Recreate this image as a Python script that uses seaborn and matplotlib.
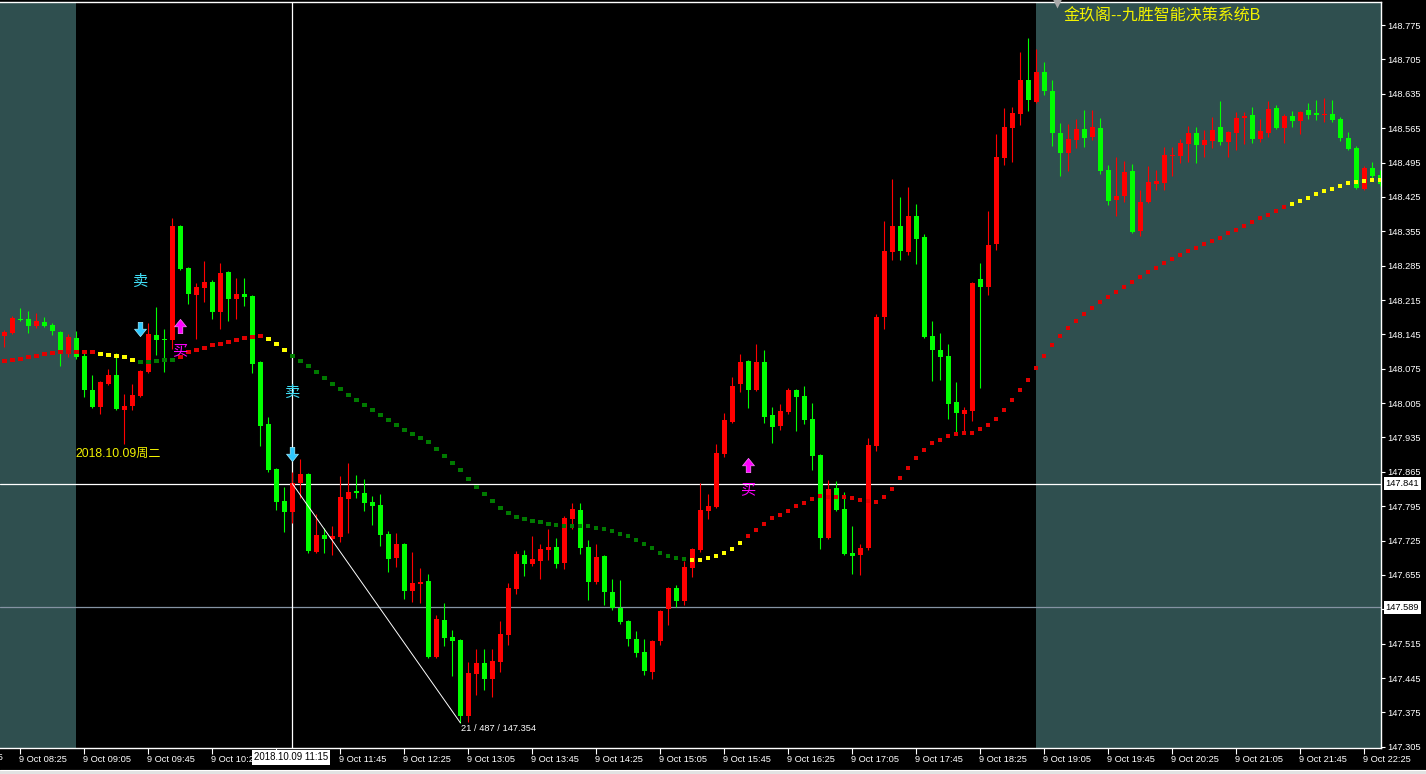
import numpy as np
import pandas as pd
import matplotlib
matplotlib.use("Agg")
import matplotlib.pyplot as plt
import matplotlib.transforms as mtransforms
from matplotlib.path import Path
from matplotlib.patches import Rectangle
import seaborn as sns

# ---------------- data ----------------
bar_times = pd.date_range("2018-10-09 08:15", periods=173, freq="5min")

open_ = [
148.142, 148.148, 148.176, 148.176, 148.162, 148.170, 148.164, 148.150, 148.107, 148.138,
148.101, 148.032, 147.997, 148.044, 148.062, 147.991, 147.999, 148.019, 148.068, 148.144,
148.136, 148.134, 148.366, 148.280, 148.225, 148.239, 148.252, 148.191, 148.272, 148.217,
148.227, 148.223, 148.089, 147.962, 147.871, 147.806, 147.783, 147.842, 147.861, 147.702,
147.736, 147.728, 147.732, 147.810, 147.826, 147.822, 147.804, 147.797, 147.738, 147.690,
147.718, 147.622, 147.637, 147.643, 147.488, 147.563, 147.529, 147.523, 147.368, 147.453,
147.476, 147.443, 147.478, 147.533, 147.626, 147.696, 147.677, 147.683, 147.706, 147.712,
147.679, 147.769, 147.787, 147.712, 147.641, 147.694, 147.620, 147.588, 147.561, 147.525,
147.498, 147.457, 147.520, 147.586, 147.628, 147.602, 147.669, 147.706, 147.785, 147.793,
147.901, 147.967, 148.044, 148.091, 148.032, 148.089, 147.981, 147.958, 147.987, 148.032,
148.019, 147.973, 147.899, 147.730, 147.832, 147.789, 147.700, 147.696, 147.710, 147.918,
148.180, 148.313, 148.366, 148.313, 148.386, 148.343, 148.142, 148.113, 148.101, 148.007,
147.983, 147.989, 148.258, 148.241, 148.329, 148.504, 148.565, 148.594, 148.663, 148.618,
148.679, 148.641, 148.555, 148.514, 148.541, 148.563, 148.547, 148.565, 148.480, 148.419,
148.427, 148.478, 148.356, 148.415, 148.451, 148.453, 148.508, 148.508, 148.533, 148.555,
148.531, 148.539, 148.567, 148.537, 148.555, 148.586, 148.592, 148.543, 148.555, 148.606,
148.565, 148.590, 148.580, 148.602, 148.596, 148.592, 148.594, 148.584, 148.545, 148.525,
148.441, 148.484, 148.470]

high = [
148.154, 148.182, 148.199, 148.193, 148.189, 148.180, 148.168, 148.151, 148.146, 148.152,
148.107, 148.062, 148.050, 148.074, 148.107, 148.024, 148.044, 148.072, 148.168, 148.201,
148.156, 148.382, 148.368, 148.282, 148.250, 148.294, 148.256, 148.290, 148.274, 148.260,
148.260, 148.225, 148.091, 147.977, 147.873, 147.834, 147.865, 147.891, 147.863, 147.779,
147.751, 147.755, 147.857, 147.883, 147.859, 147.850, 147.816, 147.820, 147.745, 147.740,
147.720, 147.702, 147.669, 147.657, 147.573, 147.598, 147.543, 147.525, 147.478, 147.504,
147.504, 147.504, 147.561, 147.639, 147.704, 147.706, 147.734, 147.718, 147.749, 147.730,
147.775, 147.802, 147.802, 147.726, 147.718, 147.696, 147.647, 147.645, 147.563, 147.541,
147.525, 147.523, 147.584, 147.630, 147.635, 147.683, 147.710, 147.842, 147.820, 147.922,
147.985, 148.058, 148.105, 148.093, 148.125, 148.113, 147.997, 148.003, 148.036, 148.034,
148.040, 148.005, 147.901, 147.848, 147.846, 147.824, 147.755, 147.718, 147.934, 148.186,
148.376, 148.461, 148.425, 148.445, 148.411, 148.349, 148.172, 148.148, 148.125, 148.048,
147.997, 148.252, 148.290, 148.396, 148.553, 148.606, 148.608, 148.720, 148.749, 148.726,
148.700, 148.663, 148.575, 148.573, 148.584, 148.602, 148.602, 148.586, 148.490, 148.506,
148.498, 148.492, 148.439, 148.488, 148.480, 148.527, 148.527, 148.543, 148.569, 148.567,
148.561, 148.588, 148.620, 148.559, 148.598, 148.598, 148.608, 148.584, 148.620, 148.612,
148.594, 148.600, 148.600, 148.616, 148.622, 148.626, 148.622, 148.588, 148.557, 148.529,
148.488, 148.496, 148.480]

low = [
148.119, 148.146, 148.172, 148.148, 148.158, 148.160, 148.144, 148.081, 148.099, 148.095,
148.017, 147.995, 147.983, 148.042, 147.991, 147.922, 147.991, 148.017, 148.066, 148.103,
148.068, 148.115, 148.276, 148.207, 148.136, 148.211, 148.176, 148.156, 148.172, 148.176,
148.203, 148.066, 147.918, 147.865, 147.787, 147.742, 147.761, 147.812, 147.700, 147.700,
147.700, 147.696, 147.722, 147.740, 147.812, 147.785, 147.757, 147.714, 147.661, 147.671,
147.606, 147.600, 147.598, 147.486, 147.486, 147.510, 147.449, 147.354, 147.356, 147.410,
147.421, 147.406, 147.457, 147.512, 147.616, 147.653, 147.673, 147.647, 147.685, 147.669,
147.667, 147.749, 147.698, 147.604, 147.637, 147.594, 147.584, 147.555, 147.510, 147.488,
147.451, 147.443, 147.512, 147.553, 147.590, 147.594, 147.651, 147.702, 147.769, 147.791,
147.895, 147.965, 148.028, 147.995, 148.030, 147.964, 147.924, 147.950, 147.983, 147.948,
147.962, 147.869, 147.708, 147.728, 147.785, 147.696, 147.657, 147.655, 147.706, 147.907,
148.156, 148.296, 148.296, 148.307, 148.288, 148.138, 148.050, 148.052, 147.973, 147.940,
147.942, 147.969, 148.036, 148.225, 148.317, 148.490, 148.496, 148.571, 148.600, 148.616,
148.633, 148.529, 148.468, 148.478, 148.525, 148.527, 148.541, 148.472, 148.408, 148.386,
148.415, 148.351, 148.345, 148.413, 148.439, 148.439, 148.468, 148.494, 148.496, 148.494,
148.506, 148.525, 148.531, 148.506, 148.520, 148.533, 148.535, 148.537, 148.547, 148.563,
148.535, 148.567, 148.553, 148.584, 148.582, 148.578, 148.578, 148.539, 148.521, 148.441,
148.439, 148.463, 148.447]

close = [
148.150, 148.178, 148.174, 148.162, 148.172, 148.162, 148.152, 148.109, 148.140, 148.099,
148.032, 147.997, 148.048, 148.062, 147.993, 147.999, 148.022, 148.070, 148.146, 148.134,
148.134, 148.366, 148.278, 148.227, 148.241, 148.252, 148.191, 148.270, 148.217, 148.227,
148.221, 148.085, 147.958, 147.869, 147.804, 147.783, 147.842, 147.861, 147.704, 147.736,
147.728, 147.734, 147.814, 147.824, 147.822, 147.802, 147.795, 147.736, 147.687, 147.718,
147.622, 147.639, 147.641, 147.488, 147.565, 147.527, 147.520, 147.368, 147.455, 147.476,
147.443, 147.480, 147.535, 147.628, 147.698, 147.677, 147.687, 147.708, 147.712, 147.677,
147.771, 147.789, 147.710, 147.641, 147.692, 147.620, 147.588, 147.559, 147.525, 147.496,
147.459, 147.520, 147.582, 147.628, 147.602, 147.671, 147.708, 147.787, 147.795, 147.903,
147.971, 148.040, 148.089, 148.032, 148.089, 147.977, 147.956, 147.989, 148.032, 148.017,
147.971, 147.897, 147.730, 147.830, 147.787, 147.698, 147.694, 147.710, 147.920, 148.180,
148.315, 148.366, 148.315, 148.386, 148.339, 148.140, 148.113, 148.099, 148.003, 147.985,
147.991, 148.250, 148.241, 148.327, 148.506, 148.567, 148.596, 148.663, 148.622, 148.679,
148.641, 148.555, 148.514, 148.543, 148.563, 148.545, 148.567, 148.478, 148.417, 148.427,
148.476, 148.353, 148.415, 148.455, 148.457, 148.510, 148.510, 148.535, 148.555, 148.531,
148.541, 148.561, 148.537, 148.557, 148.586, 148.590, 148.543, 148.559, 148.604, 148.565,
148.590, 148.580, 148.598, 148.592, 148.592, 148.594, 148.582, 148.545, 148.523, 148.443,
148.484, 148.468, 148.451]

ma_line = [
148.091, 148.093, 148.095, 148.099, 148.101, 148.105, 148.107, 148.109, 148.109, 148.109,
148.109, 148.109, 148.105, 148.103, 148.101, 148.099, 148.093, 148.089, 148.089, 148.091,
148.093, 148.093, 148.099, 148.109, 148.113, 148.117, 148.123, 148.125, 148.129, 148.134,
148.138, 148.140, 148.142, 148.136, 148.125, 148.113, 148.101, 148.091, 148.081, 148.068,
148.056, 148.044, 148.034, 148.022, 148.011, 148.001, 147.991, 147.981, 147.971, 147.960,
147.950, 147.942, 147.934, 147.926, 147.912, 147.897, 147.883, 147.869, 147.850, 147.834,
147.820, 147.806, 147.791, 147.781, 147.773, 147.769, 147.765, 147.763, 147.759, 147.757,
147.755, 147.755, 147.755, 147.755, 147.751, 147.749, 147.745, 147.738, 147.734, 147.726,
147.718, 147.710, 147.700, 147.694, 147.690, 147.687, 147.685, 147.685, 147.690, 147.694,
147.700, 147.708, 147.720, 147.734, 147.747, 147.759, 147.771, 147.777, 147.785, 147.795,
147.802, 147.810, 147.816, 147.814, 147.814, 147.814, 147.812, 147.808, 147.806, 147.804,
147.814, 147.830, 147.852, 147.873, 147.893, 147.909, 147.924, 147.930, 147.938, 147.942,
147.944, 147.944, 147.952, 147.960, 147.973, 147.991, 148.011, 148.032, 148.052, 148.076,
148.101, 148.123, 148.142, 148.158, 148.172, 148.186, 148.199, 148.211, 148.221, 148.231,
148.241, 148.252, 148.262, 148.272, 148.280, 148.290, 148.298, 148.307, 148.315, 148.321,
148.329, 148.335, 148.341, 148.351, 148.358, 148.366, 148.374, 148.382, 148.388, 148.396,
148.404, 148.411, 148.417, 148.423, 148.431, 148.437, 148.441, 148.447, 148.453, 148.455,
148.457, 148.459, 148.459]

# (first bar, last bar, state) of the coloured dotted line
ma_segments = [(0, 11, "up"), (12, 16, "flat"), (17, 21, "down"), (22, 32, "up"),
               (33, 35, "flat"), (36, 85, "down"), (86, 92, "flat"), (93, 160, "up"),
               (161, 172, "flat")]

sell_idx = [17, 36]
sell_arrow_price = [148.156, 147.901]
sell_text_price = [148.252, 148.026]
buy_idx = [22, 93]
buy_arrow_price = [148.162, 147.879]
buy_text_price = [148.111, 147.828]

ytick_values = [147.305, 147.375, 147.445, 147.515, 147.585, 147.655, 147.725, 147.795,
                147.865, 147.935, 148.005, 148.075, 148.145, 148.215, 148.285, 148.355,
                148.425, 148.495, 148.565, 148.635, 148.705, 148.775]
ytick_labels = ["147.305", "147.375", "147.445", "147.515", "", "147.655", "147.725", "147.795",
                "147.865", "147.935", "148.005", "148.075", "148.145", "148.215", "148.285", "148.355",
                "148.425", "148.495", "148.565", "148.635", "148.705", "148.775"]
xtick_labels = ["9 Oct 08:25", "9 Oct 09:05", "9 Oct 09:45", "9 Oct 10:25", "9 Oct 11:05",
                "9 Oct 11:45", "9 Oct 12:25", "9 Oct 13:05", "9 Oct 13:45", "9 Oct 14:25",
                "9 Oct 15:05", "9 Oct 15:45", "9 Oct 16:25", "9 Oct 17:05", "9 Oct 17:45",
                "9 Oct 18:25", "9 Oct 19:05", "9 Oct 19:45", "9 Oct 20:25", "9 Oct 21:05",
                "9 Oct 21:45", "9 Oct 22:25"]
hidden_xtick = "9 Oct 11:05"   # covered by the crosshair time box in the chart
offscreen_label = ("9 Oct 07:45", "2018-10-09 07:45")

crosshair_idx = 36
crosshair_price = 147.841
crosshair_label = "2018.10.09 11:15"
hline2_price = 147.589
trend_start = (36, 147.841)
trend_end = (57, 147.354)
trend_text = "21 / 487 / 147.354"
session_bounds = [(-0.54, 8.96), (128.96, 172.09)]
title_text = "金玖阁--九胜智能决策系统B"
date_text = "2018.10.09周二"

# ---------------- style ----------------
sns.set_theme(style="dark", rc={"axes.facecolor": "black", "figure.facecolor": "black"})
plt.rcParams["font.family"] = ["Liberation Sans", "Noto Sans CJK SC", "DejaVu Sans"]

W, H = 1426, 774
fig = plt.figure(figsize=(W / 100, H / 100), dpi=100)
fig.patch.set_facecolor("black")
ax = fig.add_axes([0, 26 / H, 1381 / W, (748 - 1.5) / H])
ax.set_facecolor("black")
ax.grid(False)
ax.set_xlim(-0.54, 172.09)
ax.set_ylim(147.3025, 148.823)

for a, b in session_bounds:
    ax.axvspan(a, b, color="#2F4F4F", lw=0, zorder=0)

n = len(close)
df = pd.DataFrame({"idx": np.arange(n), "open": open_, "high": high, "low": low,
                   "close": close, "ma": ma_line})
state = []
for s0, s1, st in ma_segments:
    state += [st] * (s1 - s0 + 1)
df["state"] = state
up = df["close"] >= df["open"]
colors = np.where(up, "#FF0000", "#00FF00")
body_lo = np.minimum(df["open"], df["close"])
body_h = np.maximum((df["close"] - df["open"]).abs(), 0.0022)

# reference lines
ax.axhline(crosshair_price, color="white", lw=0.9, zorder=2)
ax.axhline(hline2_price, color="#8593A3", lw=0.9, zorder=2)
ax.axvline(crosshair_idx, color="white", lw=0.9, zorder=2)

# candles
ax.vlines(df["idx"], df["low"], df["high"], colors=colors, lw=0.8, zorder=3)
ax.bar(df["idx"], body_h, bottom=body_lo, width=0.62, color=colors, lw=0, zorder=4)

# coloured dotted indicator
sns.scatterplot(data=df, x="idx", y="ma", hue="state",
                palette={"up": "#E00000", "flat": "#FFFF00", "down": "#007A00"},
                marker="s", s=10, linewidth=0, legend=False, ax=ax, zorder=5)

# trend line
ax.plot([trend_start[0], trend_end[0]], [trend_start[1], trend_end[1]],
        color="white", lw=0.7, zorder=6)
ax.text(57.09, 147.343, trend_text, color="white", fontsize=6.7, ha="left", va="center", zorder=6)

# signal arrows
down_arrow = Path([(-0.16, 0.5), (0.16, 0.5), (0.16, 0.02), (0.42, 0.02), (0.0, -0.5),
                   (-0.42, 0.02), (-0.16, 0.02), (-0.16, 0.5)],
                  [Path.MOVETO] + [Path.LINETO] * 6 + [Path.CLOSEPOLY])
up_arrow = Path([(-0.16, -0.5), (0.16, -0.5), (0.16, -0.02), (0.42, -0.02), (0.0, 0.5),
                 (-0.42, -0.02), (-0.16, -0.02), (-0.16, -0.5)],
                [Path.MOVETO] + [Path.LINETO] * 6 + [Path.CLOSEPOLY])
sns.scatterplot(x=sell_idx, y=sell_arrow_price, marker=down_arrow, s=105, color="#2EC8FF",
                edgecolor="#9EEBFF", linewidth=0.5, ax=ax, zorder=7)
sns.scatterplot(x=buy_idx, y=buy_arrow_price, marker=up_arrow, s=105, color="#FF00FF",
                edgecolor="#FF80FF", linewidth=0.5, ax=ax, zorder=7)
for i, p in zip(sell_idx, sell_text_price):
    ax.text(i, p, "卖", color="#40DDF5", fontsize=11, family=["Noto Sans CJK SC"],
            ha="center", va="center", zorder=7)
for i, p in zip(buy_idx, buy_text_price):
    ax.text(i, p, "买", color="#FF00FF", fontsize=11, family=["Noto Sans CJK SC"],
            ha="center", va="center", zorder=7)

# texts
ax.text(8.86, 147.902, date_text, color="#F2F200", fontsize=8.7, ha="left", va="center", zorder=7)
ax.text(1063 / 1381, 1 - 14.5 / 746.5, title_text, transform=ax.transAxes, color="#F2F200",
        fontsize=11.5, ha="left", va="center", zorder=7)
ax.plot([131.6], [0.9975], marker="v", ms=7, color="#A8A8A8", mec="none",
        transform=mtransforms.blended_transform_factory(ax.transData, ax.transAxes),
        clip_on=False, zorder=8)

# axes styling
for side in ["top", "right", "bottom"]:
    ax.spines[side].set_color("white")
    ax.spines[side].set_linewidth(1.0)
    ax.spines[side].set_visible(True)
ax.spines["left"].set_visible(False)

ax.yaxis.tick_right()
ax.set_yticks(ytick_values)
ax.set_yticklabels(ytick_labels)
ax.tick_params(axis="y", colors="white", direction="out", length=3, width=0.8,
               labelsize=6.7, pad=1.5, right=True, left=False)

times_hm = list(bar_times.strftime("%H:%M"))
xpos = [times_hm.index(lbl[-5:]) for lbl in xtick_labels]
ax.set_xticks(xpos)
ax.set_xticklabels(["" if lbl == hidden_xtick else lbl for lbl in xtick_labels])
ax.tick_params(axis="x", colors="white", direction="out", length=4, width=0.8,
               labelsize=6.7, pad=1.2, bottom=True)
shift = mtransforms.ScaledTranslation(-1.6 / 100, 0, fig.dpi_scale_trans)
for lbl in ax.get_xticklabels():
    lbl.set_horizontalalignment("left")
    lbl.set_transform(lbl.get_transform() + shift)
ax.set_xlabel("")
ax.set_ylabel("")

bx = mtransforms.blended_transform_factory(ax.transData, ax.transAxes)
off_pos = (pd.Timestamp(offscreen_label[1]) - bar_times[0]) / pd.Timedelta("5min")
ax.text(off_pos - 0.2, -9.5 / 746.5, offscreen_label[0], transform=bx, color="white",
        fontsize=6.7, ha="left", va="center", clip_on=False)

# crosshair labels
ax.text(crosshair_idx - 0.2, -9.5 / 746.5, crosshair_label, transform=bx, color="black",
        fontsize=6.9, ha="center", va="center", clip_on=False, zorder=20,
        bbox=dict(boxstyle="square,pad=0.22", fc="white", ec="none"))
by = mtransforms.blended_transform_factory(ax.transAxes, ax.transData)
for p in [crosshair_price, hline2_price]:
    ax.text(1385.5 / 1381, p, f"{p:.3f}", transform=by, color="black", fontsize=6.7,
            ha="left", va="center", clip_on=False, zorder=20,
            bbox=dict(boxstyle="square,pad=0.2", fc="white", ec="none"))

# window bottom strip
fig.patches.append(Rectangle((0, 0), 1, 4 / H, transform=fig.transFigure,
                             fc="#E2E2E2", ec="none", zorder=0))
fig.lines.append(plt.Line2D([0, 1], [4.5 / H, 4.5 / H], transform=fig.transFigure,
                            color="white", lw=0.8))

fig.savefig("out.png", dpi=100, facecolor="black")
